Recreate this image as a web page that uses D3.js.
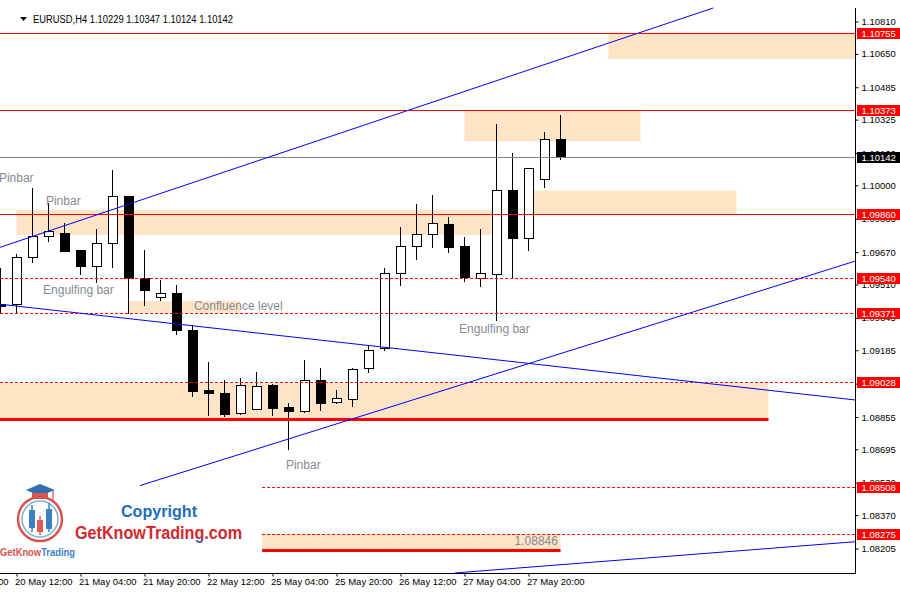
<!DOCTYPE html>
<html>
<head>
<meta charset="utf-8">
<script src="https://cdn.jsdelivr.net/npm/d3@7"></script>
<style>
  body { margin: 0; background: #fff; }
  svg { display: block; }
  text { font-family: "Liberation Sans", Arial, sans-serif; }
</style>
</head>
<body>
<div id="chart"></div>
<script>
// header
const symbol = "EURUSD,H4";
const lastOhlc = [1.10229, 1.10347, 1.10124, 1.10142];

// H4 candles, index 0 = 20 May 08:00 (partly cut at the left edge)
const opens  = [1.09412,1.09412,1.09644,1.09748,1.09760,1.09677,1.09598,1.09714,1.09947,1.09542,1.09447,1.09467,
                1.09285,1.08984,1.08972,1.08870,1.08893,1.09012,1.08900,1.08883,1.09033,1.08928,1.08939,1.09096,
                1.09196,1.09565,1.09700,1.09758,1.09809,1.09697,1.09541,1.09560,1.09977,1.09738,1.10030,1.10229];
const highs  = [1.09590,1.09661,1.09986,1.09914,1.09813,1.09677,1.09784,1.10076,1.09947,1.09681,1.09532,1.09508,
                1.09310,1.09125,1.09038,1.09046,1.09078,1.09017,1.08923,1.09137,1.09097,1.08989,1.09096,1.09210,
                1.09590,1.09796,1.09908,1.09952,1.09845,1.09746,1.09786,1.10303,1.10161,1.10081,1.10264,1.10347];
const lows   = [1.09368,1.09368,1.09615,1.09722,1.09672,1.09557,1.09516,1.09593,1.09363,1.09405,1.09430,1.09260,
                1.08952,1.08862,1.08857,1.08865,1.08893,1.08862,1.08692,1.08873,1.08886,1.08918,1.08906,1.09071,
                1.09181,1.09504,1.09631,1.09692,1.09667,1.09524,1.09499,1.09331,1.09544,1.09677,1.09989,1.10124];
const closes = [1.09400,1.09644,1.09746,1.09774,1.09672,1.09598,1.09714,1.09947,1.09539,1.09479,1.09467,1.09282,
                1.08980,1.08972,1.08865,1.09012,1.09008,1.08896,1.08881,1.09033,1.08921,1.08944,1.09092,1.09186,
                1.09565,1.09700,1.09758,1.09813,1.09692,1.09544,1.09562,1.09977,1.09738,1.10081,1.10226,1.10142];

// axis labels
const priceTicks = [1.10810,1.10650,1.10485,1.10325,1.10160,1.10000,1.09835,1.09670,1.09510,1.09345,
                    1.09185,1.09020,1.08855,1.08695,1.08530,1.08370,1.08205];
const timeIdx    = [-3, 1, 5, 9, 13, 17, 21, 25, 29, 33];
const timeLabels = ["19 May 20:00","20 May 12:00","21 May 04:00","21 May 20:00","22 May 12:00",
                    "25 May 04:00","25 May 20:00","26 May 12:00","27 May 04:00","27 May 20:00"];

// horizontal levels
const solidLevels  = [1.10755, 1.10373, 1.09860];
const dashedLevels = [1.09540, 1.09371, 1.09028];
const shortDashed  = [1.08508, 1.08275];
const shortDashedFrom = 16.35;
const bidLevel = 1.10142;
const thickPrices = [1.08846, 1.08198];
const thickFrom   = [-2, 16.35];
const thickTo     = [48, 35];
const boxLevels = [1.10755, 1.10373, 1.09860, 1.09540, 1.09371, 1.09028, 1.08508, 1.08275];

// zones (bar index from/to, price top/bottom)
const zoneFrom = [38.0, 29.0, 33.3, 1.0, 8.0, -2, 16.35];
const zoneTo   = [60, 40.0, 46.0, 30.7, 15.0, 48.0, 35.0];
const zoneTop  = [1.10755, 1.10368, 1.09974, 1.09878, 1.09428, 1.09021, 1.08280];
const zoneBot  = [1.10625, 1.10217, 1.09860, 1.09755, 1.09371, 1.08846, 1.08195];

// trend lines
const trendX1 = [-1, -1, 8.72, 28.4];
const trendP1 = [1.09668, 1.09421, 1.08516, 1.08084];
const trendX2 = [44.55, 54, 54, 54];
const trendP2 = [1.10877, 1.08934, 1.09640, 1.08242];

// chart notes
const noteTexts  = ["Pinbar","Pinbar","Engulfing bar","Confluence level","Engulfing bar","Pinbar"];
const noteIdx    = [-0.1, 2.84, 2.66, 12.09, 28.66, 17.84];
const notePrices = [1.10037, 1.09923, 1.09483, 1.09404, 1.09290, 1.08618];

const W = 900, H = 600;
const plotRight = 855, plotBottom = 573;

const svg = d3.select("#chart").append("svg").attr("width", W).attr("height", H);

const x = d3.scaleLinear().domain([0, 1]).range([0.5, 16.5]);
const y = d3.scaleLinear().domain([1.080838, 1.109163]).range([plotBottom, 0]);
const py = p => Math.round(y(p)) + 0.5;   // pixel-aligned price line

svg.append("clipPath").attr("id", "plotclip")
  .append("rect").attr("x", 0).attr("y", 0).attr("width", plotRight).attr("height", plotBottom);

const g = svg.append("g").attr("clip-path", "url(#plotclip)");

// zones
const zones = zoneFrom.map((d, i) => ({ a: d, b: zoneTo[i], t: zoneTop[i], u: zoneBot[i] }));
g.selectAll("rect.zone").data(zones).join("rect")
  .attr("class", "zone")
  .attr("x", d => x(d.a)).attr("width", d => x(d.b) - x(d.a))
  .attr("y", d => y(d.t)).attr("height", d => y(d.u) - y(d.t))
  .attr("fill", "#fde4c6");

// candles
const candles = opens.map((o, i) => ({ i, o, h: highs[i], l: lows[i], c: closes[i] }));
const cg = g.append("g").attr("shape-rendering", "crispEdges");
cg.selectAll("line").data(candles).join("line")
  .attr("x1", d => x(d.i)).attr("x2", d => x(d.i))
  .attr("y1", d => y(d.h)).attr("y2", d => y(d.l))
  .attr("stroke", "#000");
cg.selectAll("rect").data(candles).join("rect")
  .attr("x", d => x(d.i) - 4.5).attr("width", 9)
  .attr("y", d => y(Math.max(d.o, d.c)))
  .attr("height", d => Math.max(1, Math.abs(y(d.o) - y(d.c))))
  .attr("fill", d => d.c >= d.o ? "#fff" : "#000")
  .attr("stroke", "#000");

// levels
const lg = g.append("g");
lg.append("line").attr("x1", 0).attr("x2", plotRight)
  .attr("y1", py(bidLevel)).attr("y2", py(bidLevel)).attr("stroke", "#7d858f");
lg.selectAll("line.solid").data(solidLevels).join("line").attr("class", "solid")
  .attr("x1", 0).attr("x2", plotRight)
  .attr("y1", d => py(d)).attr("y2", d => py(d)).attr("stroke", "#ff0000");
lg.selectAll("line.dash").data(dashedLevels).join("line").attr("class", "dash")
  .attr("x1", 0).attr("x2", plotRight)
  .attr("y1", d => py(d)).attr("y2", d => py(d))
  .attr("stroke", "#ff0000").attr("stroke-dasharray", "3,2");
lg.selectAll("line.sdash").data(shortDashed).join("line").attr("class", "sdash")
  .attr("x1", x(shortDashedFrom)).attr("x2", plotRight)
  .attr("y1", d => py(d)).attr("y2", d => py(d))
  .attr("stroke", "#ff0000").attr("stroke-dasharray", "3,2");
lg.selectAll("line.thick").data(thickPrices).join("line").attr("class", "thick")
  .attr("x1", (d, i) => x(thickFrom[i])).attr("x2", (d, i) => x(thickTo[i]))
  .attr("y1", d => py(d)).attr("y2", d => py(d))
  .attr("stroke", "#ff0000").attr("stroke-width", 3);

// trend lines
g.selectAll("line.trend").data(trendX1).join("line").attr("class", "trend")
  .attr("x1", d => x(d)).attr("y1", (d, i) => y(trendP1[i]))
  .attr("x2", (d, i) => x(trendX2[i])).attr("y2", (d, i) => y(trendP2[i]))
  .attr("stroke", "#0000ff").attr("stroke-width", 1);

// notes
g.selectAll("text.note").data(noteTexts).join("text").attr("class", "note")
  .attr("x", (d, i) => x(noteIdx[i])).attr("y", (d, i) => y(notePrices[i]))
  .attr("dominant-baseline", "central")
  .attr("font-size", 12).attr("fill", "#868a94")
  .text(d => d);
g.append("text")
  .attr("x", x(34.84)).attr("y", y(1.08242))
  .attr("dominant-baseline", "central").attr("text-anchor", "end")
  .attr("font-size", 12).attr("fill", "#868a94")
  .text(d3.format(".5f")(thickPrices[0]));

// price axis
const ya = svg.append("g").attr("transform", `translate(${plotRight + 0.5},0)`)
  .call(d3.axisRight(y).tickValues(priceTicks).tickSize(3).tickSizeOuter(0).tickFormat(d3.format(".5f")));
ya.select(".domain").remove();
ya.selectAll("text").attr("font-size", 9.5).attr("font-family", "Liberation Sans, Arial, sans-serif")
  .attr("fill", "#000").attr("x", 6);
ya.selectAll("line").attr("stroke", "#000");
svg.append("line").attr("x1", plotRight + 0.5).attr("x2", plotRight + 0.5)
  .attr("y1", 8).attr("y2", plotBottom).attr("stroke", "#000");

// price boxes
const bg = svg.append("g");
const boxes = boxLevels.map(p => ({ p, col: "#ff0000" })).concat([{ p: bidLevel, col: "#000" }]);
bg.selectAll("rect").data(boxes).join("rect")
  .attr("x", plotRight + 1.5).attr("width", W - plotRight - 1.5)
  .attr("y", d => Math.round(y(d.p)) - 5).attr("height", 11)
  .attr("fill", d => d.col).attr("shape-rendering", "crispEdges");
bg.selectAll("text").data(boxes).join("text")
  .attr("x", plotRight + 6.5).attr("y", d => Math.round(y(d.p)) + 0.5)
  .attr("dominant-baseline", "central")
  .attr("font-size", 9.5).attr("fill", "#fff")
  .text(d => d3.format(".5f")(d.p));

// time axis
const xa = svg.append("g").attr("transform", `translate(0,${plotBottom + 0.5})`)
  .call(d3.axisBottom(x).tickValues(timeIdx).tickSize(3).tickSizeOuter(0)
    .tickFormat((d, i) => timeLabels[i]));
xa.select(".domain").remove();
xa.selectAll("line").attr("stroke", "#000");
xa.selectAll("text").attr("text-anchor", "start").attr("x", -2).attr("y", 5)
  .attr("font-size", 9.5).attr("font-family", "Liberation Sans, Arial, sans-serif").attr("fill", "#000");
svg.append("line").attr("x1", 0).attr("x2", plotRight + 1)
  .attr("y1", plotBottom + 0.5).attr("y2", plotBottom + 0.5).attr("stroke", "#000");

// header
svg.append("path").attr("d", "M20,17 L27,17 L23.5,21 Z").attr("fill", "#000");
svg.append("text").attr("x", 33).attr("y", 19).attr("dominant-baseline", "central")
  .attr("font-size", 10).attr("fill", "#000")
  .attr("textLength", 200).attr("lengthAdjust", "spacingAndGlyphs")
  .text(symbol + "  " + lastOhlc.map(d3.format(".5f")).join(" "));

// watermark logo
const logo = svg.append("g");
logo.append("circle").attr("cx", 40).attr("cy", 519).attr("r", 22)
  .attr("fill", "none").attr("stroke", "#d9534f").attr("stroke-width", 2.5);
logo.append("circle").attr("cx", 40).attr("cy", 519).attr("r", 18)
  .attr("fill", "none").attr("stroke", "#7fb0dc").attr("stroke-width", 1.5);
[[32, 505, 532, 510, 18, "#3b82c4"], [40, 516, 535, 520, 12, "#e05a5a"], [49, 503, 532, 509, 20, "#3b82c4"]]
  .forEach(([cx, w1, w2, by, bh, col]) => {
    logo.append("line").attr("x1", cx).attr("x2", cx).attr("y1", w1).attr("y2", w2).attr("stroke", col).attr("stroke-width", 1.5);
    logo.append("rect").attr("x", cx - 3).attr("y", by).attr("width", 6).attr("height", bh).attr("fill", col);
  });
logo.append("path").attr("d", "M26,490 L40,484 L55,490 L40,496 Z").attr("fill", "#2f6fae");
logo.append("path").attr("d", "M32,493 L48,493 L48,499 L32,499 Z").attr("fill", "#d9534f");
logo.append("line").attr("x1", 53).attr("x2", 53).attr("y1", 490).attr("y2", 500).attr("stroke", "#d9534f").attr("stroke-width", 1.2);
const lt = logo.append("text").attr("x", 0).attr("y", 552).attr("dominant-baseline", "central")
  .attr("font-size", 10).attr("font-family", "Lato, sans-serif").attr("font-weight", "bold")
  .attr("textLength", 75).attr("lengthAdjust", "spacingAndGlyphs");
lt.append("tspan").attr("fill", "#d9534f").text("GetKnow");
lt.append("tspan").attr("fill", "#3b82c4").text("Trading");

const defs = svg.append("defs");
const grad = defs.append("linearGradient").attr("id", "gkt").attr("x1", 0).attr("y1", 0).attr("x2", 0).attr("y2", 1);
grad.append("stop").attr("offset", "0%").attr("stop-color", "#d8232a");
grad.append("stop").attr("offset", "65%").attr("stop-color", "#d8232a");
grad.append("stop").attr("offset", "100%").attr("stop-color", "#3a6fb8");

svg.append("text").attr("x", 121).attr("y", 511).attr("dominant-baseline", "central")
  .attr("font-family", "Lato, sans-serif").attr("font-weight", "bold").attr("font-size", 17)
  .attr("fill", "#1f6fb5").attr("textLength", 76).attr("lengthAdjust", "spacingAndGlyphs")
  .text("Copyright");
svg.append("text").attr("x", 75).attr("y", 533).attr("dominant-baseline", "central")
  .attr("font-family", "Lato, sans-serif").attr("font-weight", "bold").attr("font-size", 18)
  .attr("fill", "url(#gkt)").attr("textLength", 167).attr("lengthAdjust", "spacingAndGlyphs")
  .text("GetKnowTrading.com");
</script>
</body>
</html>
